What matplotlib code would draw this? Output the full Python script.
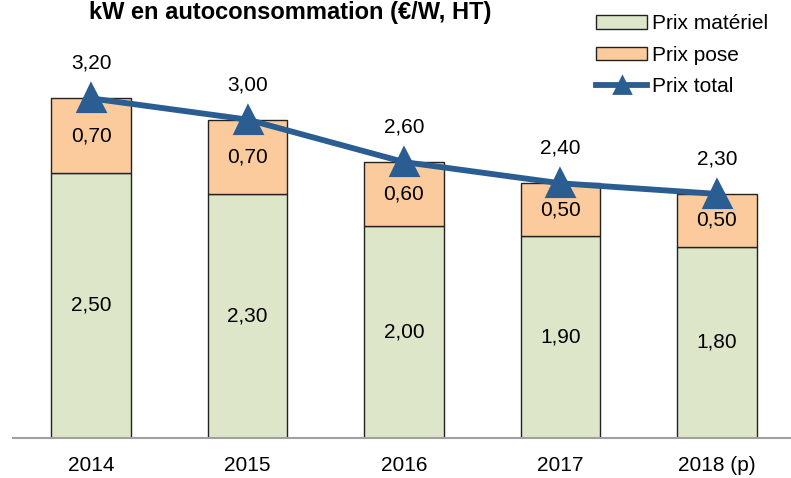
import matplotlib
matplotlib.use("Agg")
import matplotlib.pyplot as plt
from matplotlib.patches import Patch
from matplotlib.lines import Line2D

plt.rcParams['font.family'] = ['Liberation Sans', 'DejaVu Sans']

years = ["2014", "2015", "2016", "2017", "2018 (p)"]
materiel = [2.50, 2.30, 2.00, 1.90, 1.80]
pose = [0.70, 0.70, 0.60, 0.50, 0.50]
total = [3.20, 3.00, 2.60, 2.40, 2.30]

green = "#DDE6C9"
orange = "#FBCB9E"
blue = "#2A5D92"

fig = plt.figure(figsize=(7.91, 4.78), dpi=100)
ax = fig.add_axes([13/791, 40/478, 782/791, 398/478])

x = list(range(len(years)))
w = 0.51
ax.bar(x, materiel, width=w, color=green, edgecolor="#222222", linewidth=1.0, zorder=2)
ax.bar(x, pose, width=w, bottom=materiel, color=orange, edgecolor="#222222", linewidth=1.0, zorder=2)
ax.plot(x, total, color=blue, linewidth=4.2, marker="^", markersize=18, zorder=3,
        markeredgewidth=3, markeredgecolor=blue, solid_capstyle="round",
        solid_joinstyle="round")

def fmt(v):
    return f"{v:.2f}".replace(".", ",")

for xi, m, p, t in zip(x, materiel, pose, total):
    ax.text(xi, m / 2, fmt(m), ha="center", va="center", fontsize=15, zorder=4)
    ax.text(xi, m + p / 2, fmt(p), ha="center", va="center", fontsize=15, zorder=4)
    ax.text(xi, t + 0.33, fmt(t), ha="center", va="center", fontsize=15, zorder=4)

ax.set_xlim(-0.5, 4.5)
ax.set_ylim(0, 3.75)
ax.set_yticks([])
ax.set_xticks(x)
ax.set_xticklabels(years, fontsize=15)
ax.tick_params(axis="x", length=0, pad=13)
for s in ["top", "right", "left"]:
    ax.spines[s].set_visible(False)
ax.spines["bottom"].set_color("#A0A0A0")
ax.spines["bottom"].set_linewidth(1.5)

fig.text(290/791, 1 - 13/478, "kW en autoconsommation (€/W, HT)", ha="center", va="center",
         fontsize=17, fontweight="bold")

handles = [Patch(facecolor=green, edgecolor="#222222", label="Prix matériel"),
           Patch(facecolor=orange, edgecolor="#222222", label="Prix pose"),
           Line2D([0], [0], color=blue, linewidth=4.2, marker="^", markersize=11,
                  markeredgewidth=2, label="Prix total")]
leg = fig.legend(handles=handles, loc="upper left", bbox_to_anchor=(588/791, 1 - 6/478),
                 frameon=False, fontsize=15, handlelength=2.45, handleheight=0.6,
                 labelspacing=0.6, handletextpad=0.2, borderaxespad=0)

fig.savefig("out.png", dpi=100)
